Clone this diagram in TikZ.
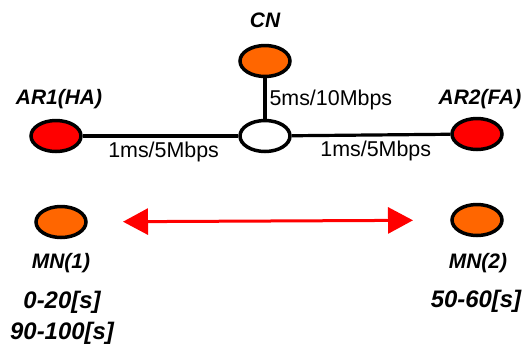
\documentclass[tikz,border=0pt]{standalone}
\usepackage{fontspec}
\setmainfont{Liberation Sans}
\usetikzlibrary{arrows.meta,positioning,shapes.geometric}
\definecolor{mnorange}{HTML}{FF6600}
\definecolor{arred}{HTML}{FF0000}

\begin{document}
\begin{tikzpicture}[x=1bp, y=-1bp,
      host/.style={draw, ellipse, line width=3.5bp, minimum width=50bp, minimum height=31bp, inner sep=0pt},
      wire/.style={line width=3.2bp},
      hostname/.style={font=\fontsize{21}{23}\selectfont\bfseries\itshape},
      period/.style={font=\fontsize{24}{31}\selectfont\bfseries\itshape},
      rate/.style={font=\fontsize{21.5}{23}\selectfont},
      handover/.style={{Triangle[length=25bp,width=26bp]}-{Triangle[length=25bp,width=26bp]}, line width=3bp, arred}]
    \useasboundingbox (0,0) rectangle (528,347);
    % routers and hosts
    \node[host, fill=mnorange] (cn) at (265,61) {};
    \node[host, fill=white] (hub) at (265,136) {};
    \node[host, fill=arred] (ar1) at (56,136) {};
    \node[host, fill=arred] (ar2) at (477,134) {};
    \node[host, fill=mnorange] (mn1) at (61,222) {};
    \node[host, fill=mnorange] (mn2) at (477,220) {};
    \node[hostname] (cnlbl) at (265,20) {CN};
    \node[hostname] (ar1lbl) at (59,99) {AR1(HA)};
    \node[hostname] (ar2lbl) at (480,99) {AR2(FA)};
    \node[hostname] (mn1lbl) at (61,263) {MN(1)};
    \node[period, align=center] (mn1time) at (62,318) {0-20[s]\\90-100[s]};
    \node[hostname] (mn2lbl) at (478,263) {MN(2)};
    \node[period] (mn2time) at (476,301) {50-60[s]};
    % links
    \draw[wire] (cn) -- (hub);
    \draw[wire] (ar1) -- (hub) node[rate, pos=0.52, below=1bp] (lnkl) {1ms/5Mbps};
    \draw[wire] (hub) -- (ar2) node[rate, pos=0.53, below=1bp] (lnkr) {1ms/5Mbps};
    \node[rate, anchor=west] (lnkc) at (266,100) {5ms/10Mbps};
    % movement between the two access routers
    \draw[handover, shorten <=62bp, shorten >=64bp] (mn1.center) -- (mn2.center);
  \end{tikzpicture}
\end{document}
